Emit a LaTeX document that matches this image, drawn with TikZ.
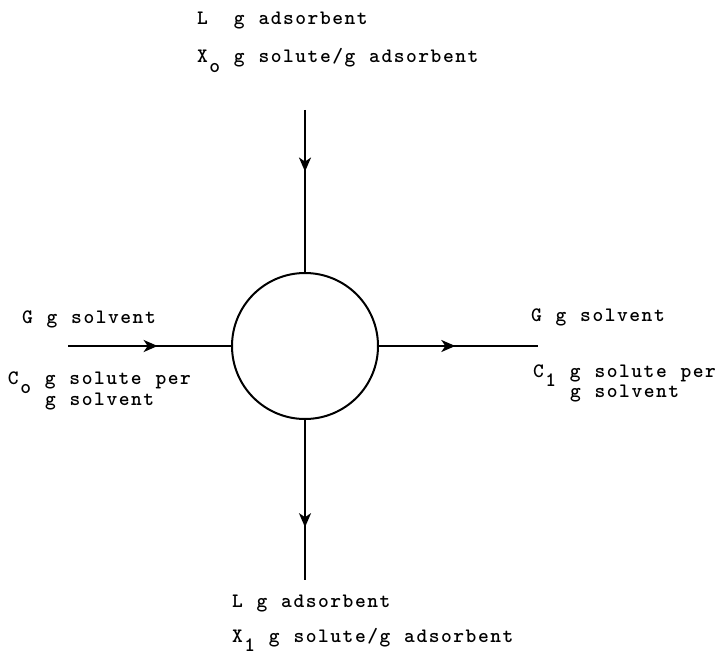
\documentclass[tikz,border=0pt]{standalone}
\usepackage{fontspec}
\newfontfamily\twfont{lmmonolt10-bold.otf}
\usetikzlibrary{arrows.meta,decorations.markings}
\tikzset{
  lbl/.style={anchor=base west, inner sep=0pt, outer sep=0pt, font=\fontsize{20.5}{20.5}\selectfont\twfont},
  flow/.style={line width=2pt},
  midarrow/.style={postaction={decorate}, decoration={markings,
      mark=at position #1 with {\arrow{Stealth[length=14pt,width=12pt,inset=4pt]}}}},
  vessel/.style={circle, draw, line width=2pt, minimum size=146pt, inner sep=0pt}
}
% fixed typewriter pitch: each character in a 12.3pt cell
\def\twend{\twend}
\def\tw#1{\twloop#1\twend}
\def\twloop#1{\ifx\twend#1\else\makebox[12.3pt][l]{#1}\expandafter\twloop\fi}
\newcommand{\lowr}[1]{\raisebox{-9.5pt}{#1}}
\begin{document}
\begin{tikzpicture}[x=1pt,y=-1pt]
\useasboundingbox (0,0) rectangle (717,655);
% vessel
\node[vessel] (c) at (305,346) {};
% free ends
\coordinate (ti) at (305,110);
\coordinate (bo) at (305,580);
\coordinate (li) at (68,346);
\coordinate (ro) at (538,346);
% connectors
\draw[flow, midarrow=0.38] (ti) -- (c.north);
\draw[flow, midarrow=0.67] (c.south) -- (bo);
\draw[flow, midarrow=0.55] (li) -- (c.west);
\draw[flow, midarrow=0.48] (c.east) -- (ro);
% top labels
\node[lbl] (tL) at (197,25) {\tw{L~~g~adsorbent}};
\node[lbl] (tX) at (197,63) {\tw{X{\lowr{o}}~g~solute/g~adsorbent}};
% left labels
\node[lbl] (lG) at (22,323) {\tw{G~g~solvent}};
\node[lbl] (lC) at (8,384) {\tw{C{\lowr{o}}~g~solute~per}};
\node[lbl] (lg) at (45,405) {\tw{g~solvent}};
% right labels
\node[lbl] (rG) at (531,321) {\tw{G~g~solvent}};
\node[lbl] (rC) at (533,377) {\tw{C{\lowr{1}}~g~solute~per}};
\node[lbl] (rg) at (570,397) {\tw{g~solvent}};
% bottom labels
\node[lbl] (bL) at (232,607) {\tw{L~g~adsorbent}};
\node[lbl] (bX) at (232,642) {\tw{X{\lowr{1}}~g~solute/g~adsorbent}};
\end{tikzpicture}
\end{document}
